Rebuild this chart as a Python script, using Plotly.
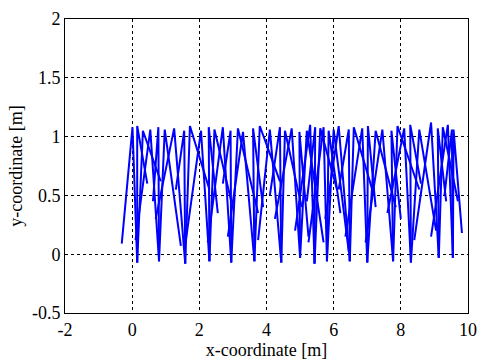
import plotly.graph_objects as go

# Snapshot data (hip, stance foot, swing foot)
hip_x = [0.01, 0.15, 0.32, 0.54, 0.78, 0.97, 1.25, 1.55, 1.72, 2.05, 2.28, 2.45,
         2.70, 2.93, 3.15, 3.30, 3.60, 3.80, 4.10, 4.40, 4.55, 4.75, 4.98, 5.20,
         5.30, 5.45, 5.60, 5.70, 5.85, 6.00, 6.15, 6.45, 6.60, 6.85, 7.02, 7.25,
         7.45, 7.72, 7.90, 8.10, 8.28, 8.55, 8.90, 9.10, 9.25, 9.40, 9.52, 9.57]
hip_y = [1.08, 1.09, 1.05, 1.06, 1.08, 1.06, 1.07, 1.05, 1.09, 1.05, 1.08, 1.06,
         1.08, 1.05, 1.07, 1.04, 1.07, 1.09, 1.06, 1.08, 1.05, 1.07, 1.04, 1.05,
         1.10, 1.08, 1.07, 1.08, 1.05, 1.06, 1.09, 1.06, 1.08, 1.07, 1.09, 1.05,
         1.06, 1.05, 1.09, 1.07, 1.10, 1.06, 1.12, 1.07, 1.08, 1.10, 1.06, 1.06]
stance_x = [0.15, 0.15, 0.15, 0.80, 0.80, 0.80, 1.58, 1.58, 1.58, 2.30, 2.30, 2.30,
            2.95, 2.95, 2.95, 3.64, 3.64, 3.64, 4.44, 4.44, 4.44, 5.00, 5.00, 5.00,
            5.43, 5.43, 5.43, 5.80, 5.80, 5.80, 6.48, 6.48, 6.48, 7.00, 7.00, 7.00,
            7.77, 7.77, 7.77, 8.30, 8.30, 8.30, 9.13, 9.13, 9.13, 9.55, 9.55, 9.55]
stance_y = [-0.07, -0.07, -0.07, -0.06, -0.06, -0.06, -0.08, -0.08, -0.08, -0.06, -0.06, -0.06,
            -0.07, -0.07, -0.07, -0.06, -0.06, -0.06, -0.07, -0.07, -0.07, -0.03, -0.03, -0.03,
            -0.08, -0.08, -0.08, -0.06, -0.06, -0.06, -0.06, -0.06, -0.06, -0.07, -0.07, -0.07,
            -0.06, -0.06, -0.06, -0.07, -0.07, -0.07, -0.03, -0.03, -0.03, -0.03, -0.03, -0.03]
swing_x = [-0.31, 0.45, 0.85, 0.10, 0.62, 1.45, 0.70, 1.30, 2.30, 1.60, 2.55, 2.95,
           2.25, 2.70, 3.75, 2.85, 3.90, 4.40, 3.75, 4.10, 5.05, 4.25, 5.25, 5.70,
           4.85, 5.20, 6.10, 5.25, 6.20, 6.45, 5.75, 6.15, 7.20, 6.35, 7.25, 7.85,
           6.95, 8.00, 8.55, 7.60, 8.60, 9.05, 8.40, 9.35, 9.70, 8.90, 9.30, 9.82]
swing_y = [0.09, 0.60, 0.62, 0.12, 0.45, 0.07, 0.30, 0.55, 0.55, 0.12, 0.35, 0.45,
           0.10, 0.60, 0.35, 0.15, 0.40, 0.62, 0.12, 0.50, 0.40, 0.30, 0.15, 0.10,
           0.20, 0.45, 0.55, 0.10, 0.35, 0.02, 0.30, 0.55, 0.50, 0.15, 0.40, 0.40,
           0.10, 0.30, 0.55, 0.35, 0.60, 0.20, 0.12, 0.45, 0.45, 0.15, 0.50, 0.18]

x_ticks = [-2, 0, 2, 4, 6, 8, 10]
y_ticks = [-0.5, 0, 0.5, 1, 1.5, 2]
y_tick_text = ["-0.5", "0", "0.5", "1", "1.5", "2"]

xs, ys = [], []
for i in range(len(hip_x)):
    xs += [stance_x[i], hip_x[i], swing_x[i], None]
    ys += [stance_y[i], hip_y[i], swing_y[i], None]

fig = go.Figure()
fig.add_trace(go.Scatter(x=xs, y=ys, mode="lines",
                         line=dict(color="#0000FF", width=2),
                         connectgaps=False, showlegend=False, hoverinfo="skip"))

font = dict(family="Liberation Serif", size=18, color="black")
axis_common = dict(showline=True, linecolor="black", linewidth=1, mirror=True,
                   showgrid=True, gridcolor="black", gridwidth=1, griddash="3px,3px",
                   zeroline=False, ticks="", tickfont=font)

fig.update_xaxes(range=[-2, 10], tickvals=x_ticks, ticktext=[str(v) for v in x_ticks],
                 title=dict(text="x-coordinate [m]", font=font, standoff=2), **axis_common)
fig.update_yaxes(range=[-0.5, 2], tickvals=y_ticks, ticktext=y_tick_text,
                 title=dict(text="y-coordinate [m]", font=font, standoff=4), **axis_common)

fig.update_layout(width=486, height=363, margin=dict(l=65, r=9, t=13, b=49),
                  plot_bgcolor="white", paper_bgcolor="white", font=font)

fig.write_html("out.html")
